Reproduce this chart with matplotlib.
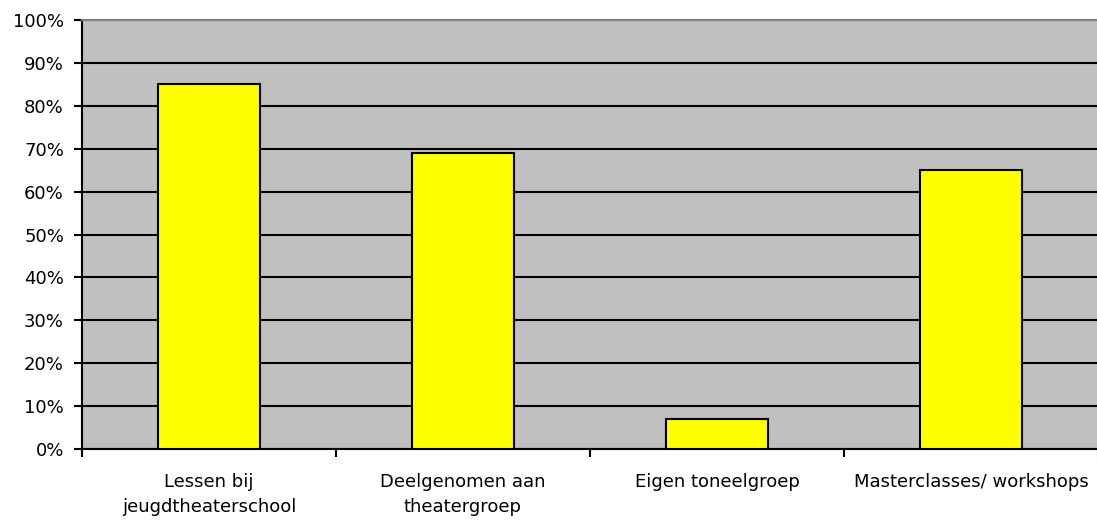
import matplotlib
matplotlib.use("Agg")
import matplotlib.pyplot as plt
from matplotlib.ticker import FuncFormatter

categories = ["Lessen bij\njeugdtheaterschool", "Deelgenomen aan\ntheatergroep",
              "Eigen toneelgroep", "Masterclasses/ workshops"]
values = [85, 69, 7, 65]
yticks = list(range(0, 101, 10))

plt.rcParams['font.family'] = ['DejaVu Sans']
fig = plt.figure(figsize=(10.97, 5.22), dpi=100)
ax = fig.add_axes([82/1097, 1 - 449/522, (1098 - 82)/1097, (449 - 20)/522])
ax.set_facecolor('#C0C0C0')

x = list(range(len(categories)))
ax.bar(x, values, width=0.4, color='#FFFF00', edgecolor='black', linewidth=1.5, zorder=3)

ax.set_xlim(-0.5, len(categories) - 0.5)
ax.set_ylim(0, 100)
ax.set_yticks(yticks)
ax.yaxis.set_major_formatter(FuncFormatter(lambda v, p: f"{int(v)}%"))
ax.yaxis.grid(True, color='black', linewidth=1.5, zorder=1)
ax.set_axisbelow(True)

ax.set_xticks([i - 0.5 for i in range(len(categories) + 1)], minor=False)
ax.set_xticklabels([])
ax.set_xticks(x, minor=True)
ax.set_xticklabels(categories, minor=True, fontsize=13, linespacing=1.5)
ax.tick_params(axis='x', which='minor', length=0, pad=17)
ax.tick_params(axis='x', which='major', length=6, width=1.5, direction='out')
ax.tick_params(axis='y', length=6, width=1.5, direction='out', labelsize=13, pad=7)

for s in ['left', 'bottom']:
    ax.spines[s].set_color('black')
    ax.spines[s].set_linewidth(1.5)
ax.spines['top'].set_color('#808080')
ax.spines['top'].set_linewidth(1.5)
ax.spines['right'].set_visible(False)

fig.savefig('out.png', dpi=100, facecolor='white')
